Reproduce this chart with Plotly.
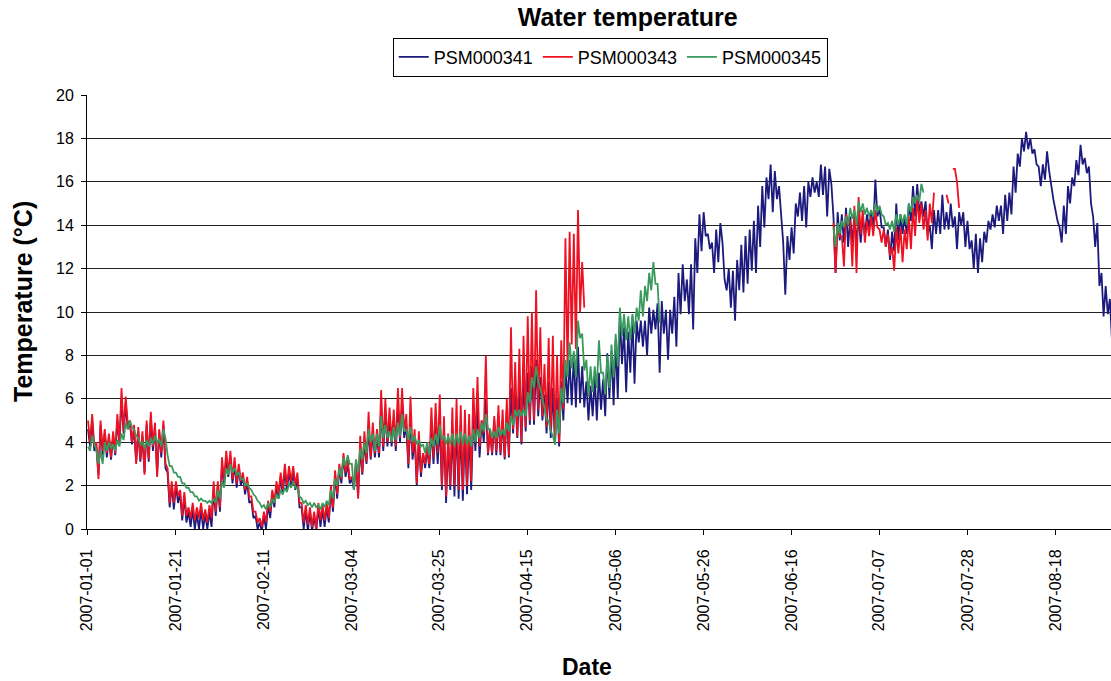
import plotly.graph_objects as go

# ---------------- data ----------------
# x axis: logger record index in days (two readings per day: daily high, daily low)
tick_labels = ["2007-01-01", "2007-01-21", "2007-02-11", "2007-03-04", "2007-03-25", "2007-04-15",
               "2007-05-06", "2007-05-26", "2007-06-16", "2007-07-07", "2007-07-28", "2007-08-18"]
tick_index = [-0.17, 20.94, 41.95, 62.96, 83.88, 104.89, 126.0, 147.0, 168.0, 188.9, 210.0, 231.0]

# PSM000341 (record days 0..244)
psm341 = [
    4.6, 3.8, 5.0, 3.6, 3.8, 2.5, 4.8, 3.4, 4.4, 3.3, 4.2, 3.2, 4.3, 3.4, 5.0, 3.9, 6.0, 4.4, 5.8, 4.6,
    4.9, 3.9, 4.6, 3.1, 4.5, 3.1, 4.3, 2.6, 4.8, 3.1, 5.1, 3.6, 4.7, 2.5, 4.5, 3.3, 4.8, 2.8, 2.6, 1.0,
    2.0, 0.9, 2.0, 1.2, 1.6, 0.4, 1.5, 0.3, 0.8, 0.1, 0.9, 0.0, 0.7, 0.0, 0.9, 0.0, 0.7, 0.0, 0.8, 0.1,
    1.8, 0.6, 2.0, 0.8, 3.0, 2.0, 3.3, 2.4, 3.3, 2.1, 3.0, 1.9, 2.8, 2.0, 2.4, 1.6, 2.2, 1.2, 1.3, 0.5,
    0.6, 0.0, 0.3, -0.1, 0.6, 0.0, 1.1, 0.5, 1.6, 1.0, 2.0, 1.4, 2.4, 1.6, 2.7, 1.8, 2.6, 2.0, 2.6, 1.8,
    2.3, 1.0, 1.0, 0.0, 0.9, -0.1, 0.8, -0.1, 0.6, -0.1, 1.0, 0.1, 0.9, 0.1, 1.0, 0.3, 1.8, 0.8, 2.5, 1.4,
    2.8, 2.1, 3.3, 2.4, 3.0, 2.1, 2.3, 1.8, 3.0, 1.5, 3.8, 2.5, 4.0, 3.0, 4.6, 3.2, 4.4, 3.3, 4.3, 3.3,
    5.5, 3.6, 5.3, 3.8, 5.0, 3.8, 5.0, 3.6, 5.6, 4.0, 5.6, 4.2, 4.8, 2.8, 5.2, 3.2, 4.2, 2.0, 4.0, 2.4,
    3.5, 2.8, 3.7, 2.8, 4.6, 3.0, 4.8, 3.0, 5.0, 1.8, 4.6, 1.2, 4.0, 1.8, 4.6, 1.5, 5.0, 1.4, 4.8, 1.3,
    4.6, 1.6, 4.5, 1.8, 5.2, 3.6, 5.6, 3.3, 5.0, 4.0, 6.0, 3.4, 4.6, 3.4, 5.0, 3.4, 5.2, 3.4, 5.0, 3.2,
    5.5, 3.3, 6.5, 4.4, 6.2, 4.2, 6.5, 3.9, 7.0, 4.5, 7.2, 4.8, 7.5, 4.8, 7.8, 5.2, 7.0, 5.0, 6.2, 4.4,
    6.8, 4.2, 6.5, 3.9, 6.0, 3.8, 6.8, 5.0, 7.5, 5.8, 7.8, 5.7, 8.0, 5.6, 8.4, 5.8, 7.5, 5.6, 6.8, 5.0,
    6.6, 5.2, 7.0, 5.0, 7.2, 5.5, 6.9, 5.2, 8.1, 6.0, 8.2, 5.7, 8.7, 6.0, 9.9, 7.6, 9.3, 6.3, 9.1, 7.2,
    9.8, 6.7, 9.6, 8.6, 9.6, 8.4, 9.6, 8.0, 10.2, 9.0, 10.1, 9.2, 10.4, 7.2, 10.5, 9.0, 10.1, 7.8, 10.1, 9.0,
    10.7, 8.4, 11.8, 9.9, 12.2, 10.5, 11.5, 9.9, 12.2, 9.2, 13.4, 11.8, 14.5, 12.8, 14.6, 13.5, 13.6, 12.9, 13.2, 11.8,
    13.8, 12.3, 14.1, 13.2, 11.5, 11.0, 12.0, 10.2, 11.9, 9.6, 12.4, 11.0, 13.1, 10.9, 13.5, 11.3, 13.8, 11.9, 14.2, 11.8,
    14.9, 13.0, 15.8, 13.9, 16.2, 15.2, 16.8, 14.6, 16.5, 15.2, 15.8, 14.7, 13.2, 10.8, 13.5, 12.4, 13.9, 12.7, 15.0, 14.4,
    15.5, 14.2, 15.8, 13.9, 16.0, 15.3, 16.2, 15.5, 16.0, 15.3, 16.8, 15.4, 16.7, 14.4, 16.6, 15.9, 14.4, 11.8, 14.6, 13.3,
    14.5, 13.2, 14.8, 13.0, 14.4, 13.2, 14.4, 13.2, 14.4, 13.2, 14.4, 13.5, 14.5, 13.9, 14.6, 13.8, 16.1, 14.4, 14.8, 13.9,
    13.9, 13.0, 13.8, 12.4, 13.7, 12.8, 15.0, 13.3, 14.5, 13.6, 14.4, 13.6, 15.0, 14.2, 15.8, 14.4, 15.9, 14.6, 15.1, 14.4,
    15.1, 13.6, 14.0, 12.9, 14.7, 13.6, 14.7, 13.6, 15.4, 13.8, 14.6, 13.8, 15.0, 13.9, 14.4, 12.9, 14.6, 14.0, 14.6, 13.0,
    14.2, 12.9, 13.3, 12.0, 13.6, 11.8, 13.4, 12.3, 13.7, 13.2, 14.2, 13.8, 14.5, 13.9, 14.9, 14.2, 14.9, 13.6, 15.4, 14.2,
    15.5, 14.5, 16.7, 15.5, 17.3, 16.7, 18.0, 17.4, 18.3, 17.5, 18.0, 17.3, 17.5, 16.8, 16.7, 15.8, 16.8, 16.1, 17.4, 16.5,
    15.8, 15.2, 14.7, 14.2, 13.9, 13.2, 14.9, 13.6, 15.8, 15.0, 16.2, 15.8, 17.0, 16.3, 17.7, 16.8, 17.1, 16.4, 16.7, 15.0,
    14.4, 13.0, 14.1, 11.2, 11.8, 9.8, 11.2, 9.9, 10.6, 8.7,
]

# PSM000343, first run (record days 0..118)
psm343_a = [
    5.0, 4.0, 5.3, 3.8, 4.0, 2.3, 5.0, 3.6, 4.6, 3.5, 4.4, 3.3, 4.5, 3.5, 5.3, 4.0, 6.5, 4.5, 6.1, 4.8,
    5.0, 4.0, 4.8, 3.0, 4.7, 3.2, 4.5, 2.5, 5.0, 3.2, 5.4, 3.8, 4.9, 2.4, 4.6, 3.5, 5.0, 3.0, 2.8, 1.2,
    2.2, 1.2, 2.2, 1.5, 1.8, 0.6, 1.7, 0.6, 1.0, 0.5, 1.2, 0.4, 1.0, 0.5, 1.2, 0.4, 0.9, 0.3, 1.1, 0.5,
    2.2, 0.8, 2.2, 1.0, 3.3, 2.2, 3.6, 2.6, 3.6, 2.3, 3.3, 2.1, 3.0, 2.2, 2.6, 1.8, 2.4, 1.5, 1.5, 0.8,
    0.8, 0.3, 0.5, 0.1, 0.8, 0.3, 1.3, 0.8, 1.8, 1.2, 2.2, 1.6, 2.6, 1.8, 3.0, 2.0, 2.9, 2.2, 2.9, 2.0,
    2.6, 1.2, 1.2, 0.3, 1.1, 0.2, 1.0, 0.1, 0.8, 0.0, 1.2, 0.4, 1.1, 0.4, 1.2, 0.5, 2.0, 1.0, 2.7, 1.6,
    3.0, 2.3, 3.5, 2.6, 3.2, 2.3, 2.4, 2.0, 3.2, 1.4, 4.3, 2.6, 4.5, 3.1, 5.4, 3.3, 4.9, 3.5, 4.6, 3.5,
    6.4, 3.8, 6.0, 4.0, 5.6, 4.0, 5.5, 3.8, 6.5, 4.2, 6.5, 4.5, 5.3, 3.0, 6.1, 3.5, 4.6, 2.1, 4.5, 2.6,
    3.5, 3.0, 3.8, 3.0, 5.6, 3.3, 5.8, 3.5, 6.2, 2.0, 5.2, 1.5, 4.4, 2.0, 5.6, 2.0, 6.0, 1.8, 5.7, 1.8,
    5.5, 2.0, 5.3, 2.2, 6.5, 4.0, 7.0, 3.8, 5.0, 4.4, 8.0, 3.5, 4.5, 3.5, 5.2, 3.6, 5.7, 3.5, 5.5, 3.3,
    6.0, 3.4, 9.3, 4.6, 7.7, 4.3, 8.3, 4.0, 8.9, 4.7, 9.8, 5.0, 10.0, 5.0, 11.0, 5.5, 9.3, 5.2, 7.6, 4.7,
    8.8, 4.5, 8.9, 4.2, 8.0, 4.0, 8.7, 5.5, 13.4, 7.3, 13.7, 8.5, 13.6, 8.3, 14.7, 10.0, 12.3, 10.2,
]
# PSM000343, second run (from record day 178)
psm343_b = [
    14.1, 11.8, 13.9, 13.5, 13.5, 12.1, 14.5, 14.1, 14.2, 12.1, 14.9, 11.8, 15.3, 13.6, 14.7, 13.2, 14.2, 13.5, 14.4, 13.5,
    14.7, 13.9, 13.8, 13.2, 13.8, 13.0, 13.6, 12.6, 13.0, 11.9, 13.9, 12.7, 13.9, 12.3, 13.8, 12.9, 14.4, 12.9, 14.8, 13.5,
    15.3, 14.1, 15.0, 13.8, 14.7, 13.3, 15.0, 14.1, 15.5,
]
# PSM000343, last fragments (from record day 205)
psm343_c = [15.4, 15.0, None, 16.6, 16.6, 16.0, 14.8]

# PSM000345, first run (record days 0..136)
psm345_a = [
    3.8, 3.6, 4.3, 3.9, 3.6, 3.0, 3.6, 3.0, 4.0, 3.6, 4.0, 3.7, 3.9, 3.6, 4.1, 3.8, 4.4, 4.1, 4.9, 4.6,
    5.0, 4.7, 4.6, 4.3, 4.2, 3.9, 4.0, 3.7, 4.1, 3.8, 4.2, 3.9, 4.3, 4.0, 4.1, 3.8, 4.6, 4.2, 3.4, 2.9,
    2.9, 2.6, 2.6, 2.4, 2.4, 2.1, 2.1, 1.9, 1.9, 1.7, 1.7, 1.5, 1.5, 1.3, 1.4, 1.3, 1.3, 1.2, 1.3, 1.2,
    1.4, 1.2, 1.8, 1.4, 2.2, 1.9, 2.8, 2.5, 3.0, 2.6, 2.8, 2.5, 2.6, 2.3, 2.3, 2.0, 2.1, 1.9, 1.8, 1.6,
    1.5, 1.3, 1.2, 1.0, 1.1, 0.9, 1.2, 1.0, 1.4, 1.2, 1.6, 1.4, 1.8, 1.6, 1.9, 1.7, 2.1, 1.9, 2.2, 1.9,
    1.9, 1.5, 1.4, 1.2, 1.3, 1.1, 1.2, 1.0, 1.2, 1.0, 1.1, 0.9, 1.2, 1.0, 1.3, 1.1, 1.8, 1.4, 2.3, 2.0,
    2.8, 2.4, 3.3, 2.9, 3.4, 3.0, 3.0, 1.8, 3.2, 2.6, 3.7, 3.2, 4.0, 3.5, 4.6, 4.0, 4.4, 3.6, 4.4, 3.8,
    5.2, 4.2, 4.8, 4.2, 4.5, 4.0, 4.7, 4.1, 4.9, 4.3, 5.3, 4.5, 4.6, 4.1, 4.7, 4.0, 4.3, 3.9, 4.1, 3.8,
    3.9, 3.5, 4.0, 3.4, 4.2, 3.8, 4.4, 3.9, 4.8, 4.1, 4.3, 3.9, 4.3, 3.9, 4.4, 3.8, 4.4, 3.9, 4.5, 3.9,
    4.4, 3.9, 4.3, 3.8, 4.6, 4.0, 4.6, 4.2, 4.9, 4.5, 5.3, 4.6, 4.6, 4.2, 4.5, 4.2, 4.7, 4.3, 4.6, 4.3,
    4.9, 4.5, 5.2, 4.8, 5.5, 5.2, 5.5, 5.2, 5.5, 5.2, 6.3, 5.8, 7.0, 6.5, 7.5, 6.8, 6.5, 6.0, 5.6, 5.0,
    5.0, 4.5, 4.3, 3.9, 5.5, 4.4, 6.5, 5.8, 7.8, 7.0, 8.6, 7.4, 8.2, 7.0, 9.6, 8.8, 9.0, 7.3, 7.8, 6.1,
    7.5, 6.3, 7.5, 6.5, 8.7, 7.2, 7.2, 6.2, 8.0, 6.5, 8.5, 7.0, 9.0, 7.5, 10.2, 8.9, 9.9, 8.7, 9.8, 8.7,
    9.9, 9.0, 10.2, 9.6, 11.0, 9.8, 11.2, 10.5, 11.8, 11.0, 12.3, 11.3, 11.3, 9.5,
]
# PSM000345, second run (from record day 178)
psm345_b = [
    13.9, 13.0, 14.1, 13.6, 14.2, 13.9, 14.4, 14.0, 14.8, 14.3, 14.7, 14.0, 15.1, 14.6, 15.0, 14.5, 14.8, 14.4, 14.7, 14.4,
    15.0, 14.6, 14.9, 14.5, 14.4, 14.0, 14.1, 13.8, 14.2, 13.7, 14.5, 14.0, 14.5, 14.1, 14.5, 14.0, 15.0, 14.6, 15.3, 15.0,
    15.4, 15.1, 15.9, 15.5,
]

STEP = 0.5  # two readings per record day


def build(segments):
    xs, ys = [], []
    for start, vals in segments:
        if xs:
            xs.append(None)
            ys.append(None)
        for i, v in enumerate(vals):
            xs.append(start + i * STEP)
            ys.append(v)
    return xs, ys


x341, y341 = build([(0, psm341)])
x343, y343 = build([(0, psm343_a), (178, psm343_b), (205, psm343_c)])
x345, y345 = build([(0, psm345_a), (178, psm345_b)])

FONT = "Liberation Sans, Arial, sans-serif"

fig = go.Figure()
fig.add_trace(go.Scatter(x=x341, y=y341, mode="lines", name="PSM000341",
                         line=dict(color="#1C1A7C", width=1.8), connectgaps=False))
fig.add_trace(go.Scatter(x=x343, y=y343, mode="lines", name="PSM000343",
                         line=dict(color="#EE1122", width=1.8), connectgaps=False))
fig.add_trace(go.Scatter(x=x345, y=y345, mode="lines", name="PSM000345",
                         line=dict(color="#3A9A5E", width=1.8), connectgaps=False))

fig.update_layout(
    width=1111, height=681,
    margin=dict(l=87, r=0, t=95, b=152),
    paper_bgcolor="white", plot_bgcolor="white",
    font=dict(family=FONT, color="black", size=16),
    title=dict(text="<b>Water temperature</b>", x=0.565, xref="container", xanchor="center",
               y=0.975, yref="container", yanchor="middle", font=dict(size=25, family=FONT)),
    showlegend=True,
    legend=dict(orientation="h", x=0.511, xanchor="center", y=1.132, yanchor="top",
                bordercolor="black", borderwidth=1, font=dict(size=18, family=FONT),
                itemwidth=30, tracegroupgap=0),
    annotations=[
        dict(text="<b>Temperature (°C)</b>", x=-0.0625, y=0.523, xref="paper", yref="paper",
             textangle=-90, showarrow=False, xanchor="center", yanchor="middle",
             font=dict(size=25, family=FONT)),
        dict(text="<b>Date</b>", x=0.488, y=-0.318, xref="paper", yref="paper",
             showarrow=False, xanchor="center", yanchor="middle", font=dict(size=23, family=FONT)),
    ],
)

fig.update_xaxes(range=[-0.24, 244.27], tickmode="array", tickvals=tick_index, ticktext=tick_labels,
                 tickangle=-90, ticks="outside", ticklen=5, tickcolor="black", ticklabelstandoff=8,
                 showline=True, linecolor="black", linewidth=1, showgrid=False, zeroline=False,
                 tickfont=dict(size=16, family=FONT))
fig.update_yaxes(range=[0, 20], dtick=2, tick0=0, ticks="outside", ticklen=5, tickcolor="black",
                 ticklabelstandoff=4,
                 showline=True, linecolor="black", linewidth=1, showgrid=True, gridcolor="#222222",
                 gridwidth=1, zeroline=False, tickfont=dict(size=16, family=FONT))

fig.write_html("out.html", config={"displayModeBar": False},
               post_script="document.body.style.margin='0';document.body.style.overflow='hidden';")
